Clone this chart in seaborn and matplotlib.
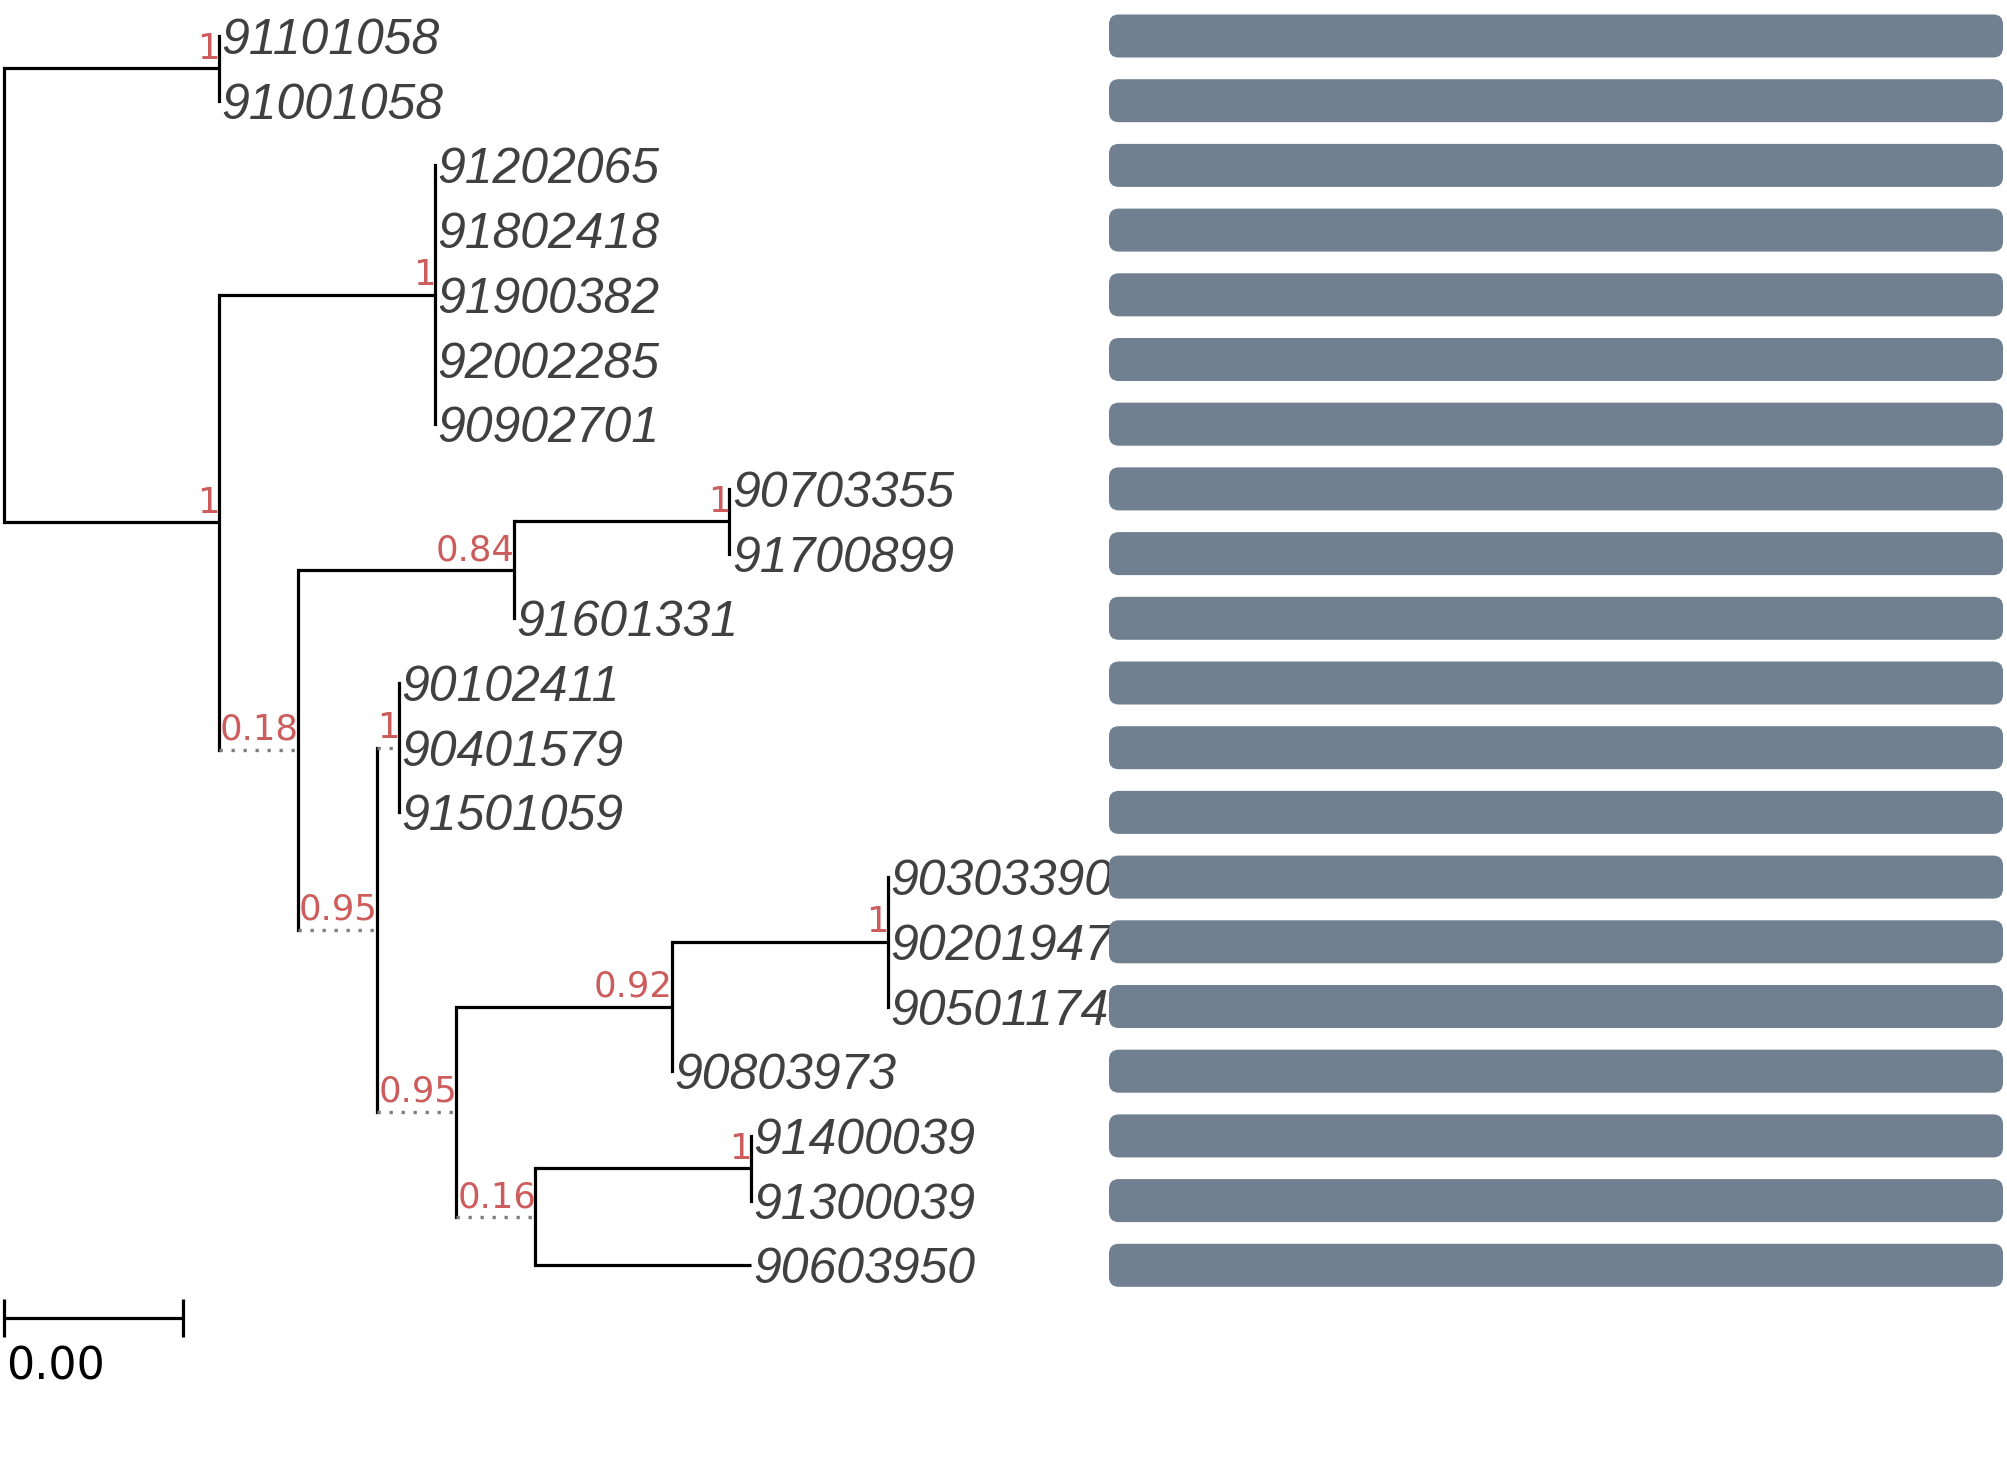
import matplotlib
matplotlib.use("Agg")
import matplotlib.pyplot as plt
from matplotlib.patches import FancyBboxPatch
import pandas as pd
import seaborn as sns

# tip order, top to bottom
tip_labels = ["91101058", "91001058", "91202065", "91802418", "91900382",
              "92002285", "90902701", "90703355", "91700899", "91601331",
              "90102411", "90401579", "91501059", "90303390", "90201947",
              "90501174", "90803973", "91400039", "91300039", "90603950"]

# tree edges (parent -> child, branch length)
edge_parent = ["root", "nA", "nA", "root", "nB", "nB1", "nB1", "nB1", "nB1", "nB1",
               "nB", "nC", "nD", "nE", "nE", "nD", "nC", "nF", "nG", "nG", "nG",
               "nF", "nH", "nI", "nJ", "nJ", "nJ", "nI", "nH", "nK", "nL", "nL", "nK"]
edge_child = ["nA", "91101058", "91001058", "nB", "nB1", "91202065", "91802418",
              "91900382", "92002285", "90902701", "nC", "nD", "nE", "90703355",
              "91700899", "91601331", "nF", "nG", "90102411", "90401579", "91501059",
              "nH", "nI", "nJ", "90303390", "90201947", "90501174", "90803973",
              "nK", "nL", "91400039", "91300039", "90603950"]
edge_length = [0.0012, 0, 0, 0.0012, 0.0012, 0, 0, 0, 0, 0,
               0.00044, 0.0012, 0.0012, 0, 0, 0, 0.00044, 0.00012, 0, 0, 0,
               0.00044, 0.0012, 0.0012, 0, 0, 0, 0, 0.00044, 0.0012, 0, 0, 0.0012]

# node support values
support_nodes = ["nA", "nB", "nB1", "nC", "nD", "nE", "nF", "nG", "nH", "nI", "nJ", "nK", "nL"]
support_values = [1, 1, 1, 0.18, 0.84, 1, 0.95, 1, 0.95, 0.92, 1, 0.16, 1]

# facet bars
bar_values = [1, 1, 1, 1, 1, 1, 1, 1, 1, 1, 1, 1, 1, 1, 1, 1, 1, 1, 1, 1]

scale_length = 0.001

sns.set_style("white")
plt.rcParams["font.family"] = ["DejaVu Sans"]

W, H = 2007, 1480
fig = plt.figure(figsize=(W / 100, H / 100), dpi=100)

# layout in pixels
px_per_unit = 179700
x0_px = 3.5
row0_px = 36
row_px = 64.7
bar_left, bar_right = 1109, 2003

ylim = ((H - row0_px) / row_px, -row0_px / row_px)

# --- tree coordinates ---
children = {}
for p, c in zip(edge_parent, edge_child):
    children.setdefault(p, []).append(c)

xpos = {"root": 0.0}
for p, c, l in zip(edge_parent, edge_child, edge_length):
    xpos[c] = xpos[p] + l


def get_y(n):
    if n in tip_labels:
        return tip_labels.index(n)
    ys = [get_y(c) for c in children[n]]
    return sum(ys) / len(ys)


ypos = {n: get_y(n) for n in xpos}

ax = fig.add_axes([0, 0, 1, 1])
ax.set_xlim(-x0_px / px_per_unit, (W - x0_px) / px_per_unit)
ax.set_ylim(*ylim)
ax.axis("off")

lw = 2.3
for n, kids in children.items():
    ys = [ypos[k] for k in kids]
    ax.plot([xpos[n], xpos[n]], [min(ys), max(ys)], color="black", lw=lw,
            solid_capstyle="projecting")

for p, c, l in zip(edge_parent, edge_child, edge_length):
    if l == 0:
        continue
    if l < 0.001:
        ax.plot([xpos[p], xpos[c]], [ypos[c], ypos[c]], color="#7f7f7f", lw=2.4,
                linestyle=(0, (1, 2.6)), dash_capstyle="butt")
    else:
        ax.plot([xpos[p], xpos[c]], [ypos[c], ypos[c]], color="black", lw=lw,
                solid_capstyle="butt")

for n, s in zip(support_nodes, support_values):
    ax.annotate(f"{s:g}", (xpos[n], ypos[n]), xytext=(0.5, 7), textcoords="offset points",
                ha="right", va="baseline", color="#cd5c5c", fontsize=25.5)

for t in tip_labels:
    ax.annotate(t, (xpos[t], ypos[t]), xytext=(1.8, 0), textcoords="offset points",
                ha="left", va="center_baseline", color="#404040", fontsize=36,
                fontstyle="italic", family=["Liberation Sans", "DejaVu Sans"])

# scale bar
sy = (1318 - row0_px) / row_px
tick = 19 / row_px
ax.plot([0, scale_length], [sy, sy], color="black", lw=lw, solid_capstyle="butt")
ax.plot([0, 0], [sy - tick, sy + tick], color="black", lw=lw, solid_capstyle="butt")
ax.plot([scale_length, scale_length], [sy - tick, sy + tick], color="black", lw=lw,
        solid_capstyle="butt")
ax.text(2.5 / px_per_unit, (1345 - row0_px) / row_px, f"{scale_length:.2f}",
        ha="left", va="top", fontsize=32, color="black")

# --- bar facet ---
ax_bar = fig.add_axes([bar_left / W, 0, (bar_right - bar_left) / W, 1])
df_bar = pd.DataFrame({"label": tip_labels, "value": bar_values})
sns.barplot(data=df_bar, x="value", y="label", orient="h", color="#708090",
            saturation=1, width=0.665, errorbar=None, ax=ax_bar)
aspect = (1 / row_px) / (1 / (bar_right - bar_left))
for p in list(ax_bar.patches):
    bx, by, bw, bh = p.get_x(), p.get_y(), p.get_width(), p.get_height()
    p.remove()
    ax_bar.add_patch(FancyBboxPatch((bx, by), bw, bh,
                                    boxstyle="round,pad=0,rounding_size=0.011",
                                    mutation_aspect=aspect, fc="#708090", ec="none"))
ax_bar.set_xlim(0, 1)
ax_bar.set_ylim(*ylim)
ax_bar.axis("off")

fig.savefig("out.png", dpi=100)
